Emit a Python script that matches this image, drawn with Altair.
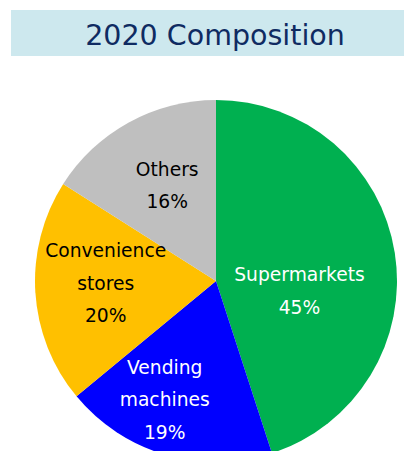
import altair as alt
import pandas as pd

# ---- data ----
title_text = "2020 Composition"
categories = ["Supermarkets", "Vending machines", "Convenience stores", "Others"]
label_lines = ["Supermarkets", "Vending\nmachines", "Convenience\nstores", "Others"]
shares = [45, 19, 20, 16]

# ---- styles ----
colors = ["#00B050", "#0000FF", "#FFC000", "#BFBFBF"]
text_colors = ["white", "white", "black", "black"]
LH = 32.5
# label placement: radius, dx, dy per slice (dy is for block centre)
label_style = {
    "Supermarkets": (84, 0.5, 23.5),
    "Vending machines": (130, -15, -5.5),
    "Convenience stores": (110.5, 0, -4),
    "Others": (107.6, 3, -0.5),
}
FONT = "DejaVu Sans"
W, H = 396, 443
CX, CY = 208, 273
R = 181

df = pd.DataFrame({
    "category": categories,
    "share": shares,
    "idx": list(range(len(categories))),
    "label": [f"{l}\n{s}%" for l, s in zip(label_lines, shares)],
})

base = alt.Chart(df)

pie = base.mark_arc(outerRadius=R).encode(
    theta=alt.Theta("share:Q", stack=True),
    order=alt.Order("idx:Q", sort="ascending"),
    color=alt.Color("category:N", scale=alt.Scale(domain=categories, range=colors), legend=None),
    x=alt.value(CX), y=alt.value(CY),
)

label_layers = []
for cat, lines, tc in zip(categories, label_lines, text_colors):
    r, dx, dy = label_style[cat]
    n = lines.count("\n") + 2
    dy_first = dy - (n - 1) * LH / 2
    lyr = base.mark_text(
        radius=r, dx=dx, dy=dy_first, font=FONT, fontSize=18.7, color=tc,
        align="center", baseline="middle", lineBreak="\n", lineHeight=LH,
    ).encode(
        theta=alt.Theta("share:Q", stack=True),
        order=alt.Order("idx:Q", sort="ascending"),
        text="label:N",
        x=alt.value(CX), y=alt.value(CY),
        opacity=alt.condition(alt.datum.category == cat, alt.value(1), alt.value(0)),
    )
    label_layers.append(lyr)

title_df = pd.DataFrame({"t": [title_text]})
title_box = alt.Chart(title_df).mark_rect(color="#CDE8EE").encode(
    x=alt.value(3), x2=alt.value(W), y=alt.value(2), y2=alt.value(48)
)
title_txt = alt.Chart(title_df).mark_text(
    font=FONT, fontSize=28.5, color="#0F2B62", align="center", baseline="alphabetic"
).encode(x=alt.value(207), y=alt.value(37), text="t:N")

chart = alt.layer(pie, *label_layers, title_box, title_txt).properties(
    width=W, height=H,
    padding=0,
    autosize=alt.AutoSizeParams(type="none"),
).configure_view(stroke=None)

chart.save("out.html", embed_options={"renderer": "svg", "actions": False})
